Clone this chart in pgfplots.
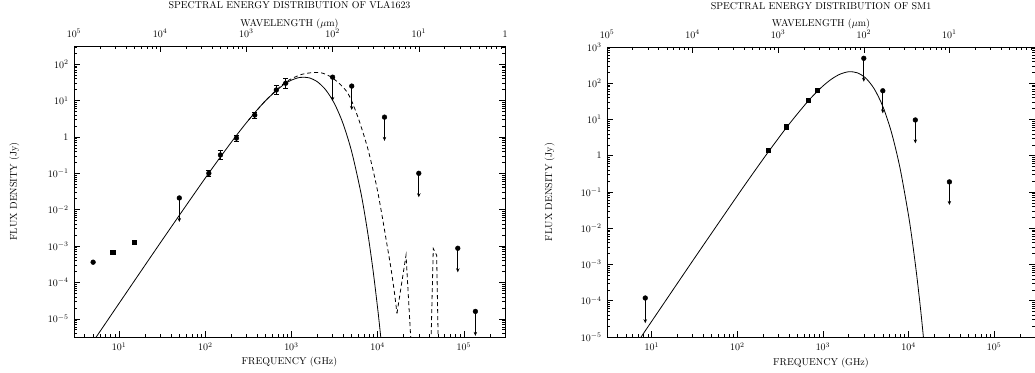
\documentclass[border=0pt]{standalone}
\usepackage{pgfplots}
\pgfplotsset{compat=1.18}
\usetikzlibrary{arrows.meta}

\pgfplotsset{every axis/.append style={
    scale only axis, xmode=log, ymode=log,
    xmin=3, xmax=3e5,
    major tick length=6bp, minor tick length=3bp,
    tick style={black, line width=0.6pt},
    axis line style={line width=0.8pt},
}}
\tikzset{
  myul/.style={-{Stealth[length=4bp,width=3.5bp]}, line width=0.8pt, black},
}

\begin{document}
\begin{tikzpicture}
\useasboundingbox (0,0) rectangle (1035bp,373bp);

% ================= LEFT : VLA1623 =================
\begin{axis}[at={(74bp,36bp)}, anchor=south west,
  width=431bp, height=291bp,
  ymin=3.1623e-6, ymax=316.23,
  xtick pos=left, ytick pos=both, yticklabel pos=left,
  xtick={10,100,1000,10000,100000},
  xticklabels={$10^{1}$,$10^{2}$,$10^{3}$,$10^{4}$,$10^{5}$},
  minor xtick={4,5,6,7,8,9,20,30,40,50,60,70,80,90,200,300,400,500,600,700,800,900,2000,3000,4000,5000,6000,7000,8000,9000,20000,30000,40000,50000,60000,70000,80000,90000,200000},
  ytick={1e-5,1e-4,1e-3,1e-2,1e-1,1,10,100},
  yticklabels={$10^{-5}$,$10^{-4}$,$10^{-3}$,$10^{-2}$,$10^{-1}$,$1$,$10^{1}$,$10^{2}$},
  minor ytick={4e-6,5e-6,6e-6,7e-6,8e-6,9e-6,2e-5,3e-5,4e-5,5e-5,6e-5,7e-5,8e-5,9e-5,2e-4,3e-4,4e-4,5e-4,6e-4,7e-4,8e-4,9e-4,2e-3,3e-3,4e-3,5e-3,6e-3,7e-3,8e-3,9e-3,0.02,0.03,0.04,0.05,0.06,0.07,0.08,0.09,0.2,0.3,0.4,0.5,0.6,0.7,0.8,0.9,2,3,4,5,6,7,8,9,20,30,40,50,60,70,80,90,200,300},
  xticklabel style={yshift=-2bp}, yticklabel style={xshift=-2bp},
  xlabel={FREQUENCY (GHz)}, ylabel={FLUX DENSITY (Jy)},
  xlabel style={at={(axis description cs:0.5,-0.0962)}, anchor=base},
  ylabel style={at={(axis description cs:-0.1323,0.5)}, anchor=base},
]
% model (solid)
\addplot[line width=0.8pt, smooth] coordinates {
(5.012,2.39e-6)(6.310,5.33e-6)(10,2.66e-5)(31.62,1.454e-3)(100,7.40e-2)
(199.5,0.705)(316.2,2.864)(501.2,9.98)(794.3,26.4)(1000,36.5)(1259,43.3)
(1585,42.4)(1995,32.9)(2512,19.3)(3162,8.11)(3981,2.268)(5012,0.381)
(6310,3.375e-2)(7079,7.52e-3)(7943,1.335e-3)(8913,1.842e-4)(10000,1.914e-5)
(10593,5.48e-6)(11220,1.445e-6)(12589,7.66e-8)};
% model (dashed)
\addplot[dash pattern=on 4bp off 3bp, line width=0.8pt, smooth] coordinates {
(316.2,2.864)(501.2,10.0)(794.3,28.2)(1000,39.8)(1318,52.5)(1778,58.9)
(2239,57.5)(2818,45.7)(3548,30.2)(4365,17.8)(5012,9.55)(5888,3.55)
(6761,1.318)(7762,0.4365)(8913,0.1122)(10000,0.0316)(11220,7.08e-3)
(12589,1.413e-3)(14125,2.818e-4)(15488,6.31e-5)(16749,1.413e-5)};
\addplot[dash pattern=on 4bp off 3bp, line width=0.8pt] coordinates {(16749,1.413e-5)(21330,5.62e-4)(24831,1e-6)};
\addplot[dash pattern=on 4bp off 3bp, line width=0.8pt] coordinates {(41210,1e-6)(44157,8.51e-4)(48306,5.62e-4)(50699,1e-6)};
% detections
\addplot[only marks, mark=*, mark size=2.4bp, black] coordinates {(5,3.6e-4)};
\addplot[only marks, mark=square*, mark size=2.2bp, black] coordinates {(8.4,6.8e-4)(15,1.3e-3)};
\addplot[only marks, mark=*, mark size=2.4bp, black,
  error bars/.cd, y dir=both, y explicit,
  error bar style={line width=0.7pt, black},
  error mark options={rotate=90, mark size=2.5bp, line width=0.7pt, black}]
 coordinates {
(110,0.10) += (0,0.017) -= (0,0.015)
(150,0.32) += (0,0.11) -= (0,0.08)
(230,0.93) += (0,0.2) -= (0,0.16)
(375,4.0) += (0,0.8) -= (0,0.7)
(667,19.5) += (0,7) -= (0,5)
(857,30) += (0,11) -= (0,8)};
% upper limits
\addplot[only marks, mark=*, mark size=2.4bp, black] coordinates {(50,0.021)(3000,44)(5000,25)(12000,3.5)(30000,0.10)(85000,8.7e-4)(136000,1.6e-5)};
\addplot[myul] coordinates {(50,0.021)(50,0.0046)};
\addplot[myul] coordinates {(3000,44)(3000,9.8)};
\addplot[myul] coordinates {(5000,25)(5000,5.5)};
\addplot[myul] coordinates {(12000,3.5)(12000,0.78)};
\addplot[myul] coordinates {(30000,0.10)(30000,0.022)};
\addplot[myul] coordinates {(85000,8.7e-4)(85000,1.9e-4)};
\addplot[myul] coordinates {(136000,1.6e-5)(136000,3.4e-6)};
\end{axis}
% top wavelength axis (left)
\begin{axis}[at={(74bp,36bp)}, anchor=south west,
  width=431bp, height=291bp,
  ymin=3.1623e-6, ymax=316.23,
  hide y axis, axis x line*=top,
  xtick={3,30,300,3000,30000,300000},
  xticklabels={$10^{5}$,$10^{4}$,$10^{3}$,$10^{2}$,$10^{1}$,$1$},
  minor xtick={},
  xticklabel style={yshift=5bp},
  xlabel={WAVELENGTH ($\mu$m)},
  xlabel style={at={(axis description cs:0.5,1.0687)}, anchor=base},
  title={SPECTRAL ENERGY DISTRIBUTION OF VLA1623},
  title style={at={(axis description cs:0.5,1.110)}, anchor=base},
]
\addplot[draw=none] coordinates {(10,1)};
\end{axis}

% ================= RIGHT : SM1 =================
\begin{axis}[at={(607bp,36bp)}, anchor=south west,
  width=428bp, height=290bp,
  ymin=1e-5, ymax=1e3,
  xtick pos=left, ytick pos=both, yticklabel pos=left,
  xtick={10,100,1000,10000,100000},
  xticklabels={$10^{1}$,$10^{2}$,$10^{3}$,$10^{4}$,$10^{5}$},
  minor xtick={4,5,6,7,8,9,20,30,40,50,60,70,80,90,200,300,400,500,600,700,800,900,2000,3000,4000,5000,6000,7000,8000,9000,20000,30000,40000,50000,60000,70000,80000,90000,200000},
  ytick={1e-5,1e-4,1e-3,1e-2,1e-1,1,10,100,1000},
  yticklabels={$10^{-5}$,$10^{-4}$,$10^{-3}$,$10^{-2}$,$10^{-1}$,$1$,$10^{1}$,$10^{2}$,$10^{3}$},
  minor ytick={2e-5,3e-5,4e-5,5e-5,6e-5,7e-5,8e-5,9e-5,2e-4,3e-4,4e-4,5e-4,6e-4,7e-4,8e-4,9e-4,2e-3,3e-3,4e-3,5e-3,6e-3,7e-3,8e-3,9e-3,0.02,0.03,0.04,0.05,0.06,0.07,0.08,0.09,0.2,0.3,0.4,0.5,0.6,0.7,0.8,0.9,2,3,4,5,6,7,8,9,20,30,40,50,60,70,80,90,200,300,400,500,600,700,800,900},
  xticklabel style={yshift=-2bp}, yticklabel style={xshift=-2bp},
  xlabel={FREQUENCY (GHz)}, ylabel={FLUX DENSITY (Jy)},
  xlabel style={at={(axis description cs:0.5,-0.0966)}, anchor=base},
  ylabel style={at={(axis description cs:-0.1285,0.5)}, anchor=base},
]
\addplot[line width=0.8pt, smooth] coordinates {
(6.310,5.47e-6)(10,2.73e-5)(31.62,1.505e-3)(100,7.91e-2)(158.5,0.3737)
(234.4,1.357)(398.1,7.21)(631,27.3)(794.3,49.5)(1000,84.1)(1258.9,130.2)
(1584.9,178.3)(1995.3,207.4)(2511.9,194.6)(3162.3,138.3)(3981,69.4)
(5011.9,22.7)(6309.6,4.43)(7943,0.461)(10000,0.0222)(11220,3.45e-3)
(12589,4.08e-4)(14125,3.57e-5)(15849,2.22e-6)};
\addplot[only marks, mark=square*, mark size=2.2bp, black] coordinates {(230,1.44)(375,6.3)(667,34.5)(857,65)};
\addplot[only marks, mark=*, mark size=2.4bp, black] coordinates {(8.4,1.19e-4)(3000,488)(5000,62)(12000,9.7)(30000,0.19)};
\addplot[myul] coordinates {(8.4,1.19e-4)(8.4,2.4e-5)};
\addplot[myul] coordinates {(3000,488)(3000,110)};
\addplot[myul] coordinates {(5000,62)(5000,14.8)};
\addplot[myul] coordinates {(12000,9.7)(12000,2.2)};
\addplot[myul] coordinates {(30000,0.19)(30000,0.044)};
\end{axis}
% top wavelength axis (right)
\begin{axis}[at={(607bp,36bp)}, anchor=south west,
  width=428bp, height=290bp,
  ymin=1e-5, ymax=1e3,
  hide y axis, axis x line*=top,
  xtick={3,30,300,3000,30000,300000},
  xticklabels={$10^{5}$,$10^{4}$,$10^{3}$,$10^{2}$,$10^{1}$,{}},
  minor xtick={},
  xticklabel style={yshift=5bp},
  xlabel={WAVELENGTH ($\mu$m)},
  xlabel style={at={(axis description cs:0.5,1.0724)}, anchor=base},
  title={SPECTRAL ENERGY DISTRIBUTION OF SM1},
  title style={at={(axis description cs:0.5,1.1103)}, anchor=base},
]
\addplot[draw=none] coordinates {(10,1)};
\end{axis}
\end{tikzpicture}
\end{document}
